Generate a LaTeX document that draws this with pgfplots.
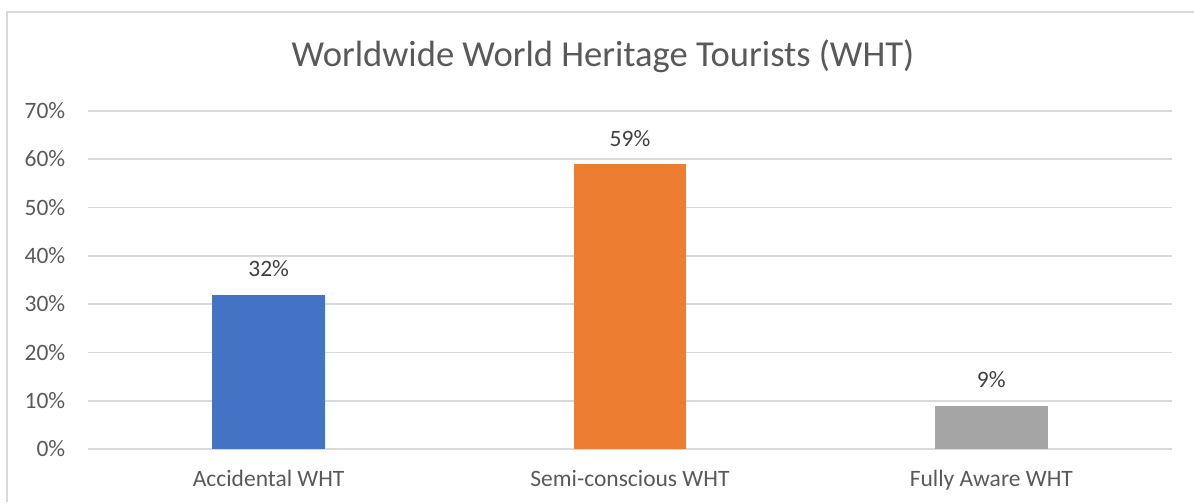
\documentclass[border=0pt]{standalone}
\usepackage{pgfplots}
\pgfplotsset{compat=1.18}
\usepackage{fontspec}
\setmainfont{Carlito}
\definecolor{cblue}{HTML}{4472C4}
\definecolor{corange}{HTML}{ED7D31}
\definecolor{cgrey}{HTML}{A5A5A5}
\definecolor{gridcol}{HTML}{D9D9D9}
\definecolor{txt}{HTML}{595959}
\definecolor{lbl}{HTML}{404040}
\begin{document}
\begin{tikzpicture}
\def\u{0.383pt}
\useasboundingbox (0,0) rectangle (1194*\u,502*\u);
\draw[gridcol, line width=0.6pt] (7*\u,0) -- (7*\u,490*\u) -- (1194*\u,490*\u);
\node[anchor=base, inner sep=0pt, text=txt, font=\fontsize{14}{17}\selectfont] at (603*\u,435.3*\u) {Worldwide World Heritage Tourists (WHT)};
\begin{axis}[
  at={(88*\u,53*\u)}, anchor=south west,
  scale only axis,
  width=1084*\u, height=338*\u,
  xmin=-0.5, xmax=2.5, ymin=0, ymax=70,
  ybar, bar width=112.7*\u, bar shift=0pt,
  axis line style={draw=none},
  major tick length=0pt,
  xtick={0,1,2},
  xticklabels={Accidental WHT, Semi-conscious WHT, Fully Aware WHT},
  ytick={0,10,...,70},
  yticklabel={\pgfmathprintnumber{\tick}\%},
  /pgf/number format/assume math mode=true,
  ymajorgrids,
  grid style={color=gridcol, line width=0.65pt},
  ticklabel style={font=\fontsize{9}{11}\selectfont, text=txt},
  xticklabel style={anchor=base, inner sep=0pt, yshift=-14.4pt},
  yticklabel style={anchor=base east, inner sep=0pt, xshift=-8.5pt, yshift=-2.9pt},
  nodes near coords={\pgfmathprintnumber{\pgfplotspointmeta}\%},
  every node near coord/.append style={anchor=base, inner sep=0pt, yshift=6.9pt, font=\fontsize{9}{11}\selectfont, text=lbl},
  clip=false,
]
\addplot[fill=cblue, draw=none] coordinates {(0,32)};
\addplot[fill=corange, draw=none] coordinates {(1,59)};
\addplot[fill=cgrey, draw=none] coordinates {(2,9)};
\end{axis}
\end{tikzpicture}
\end{document}
